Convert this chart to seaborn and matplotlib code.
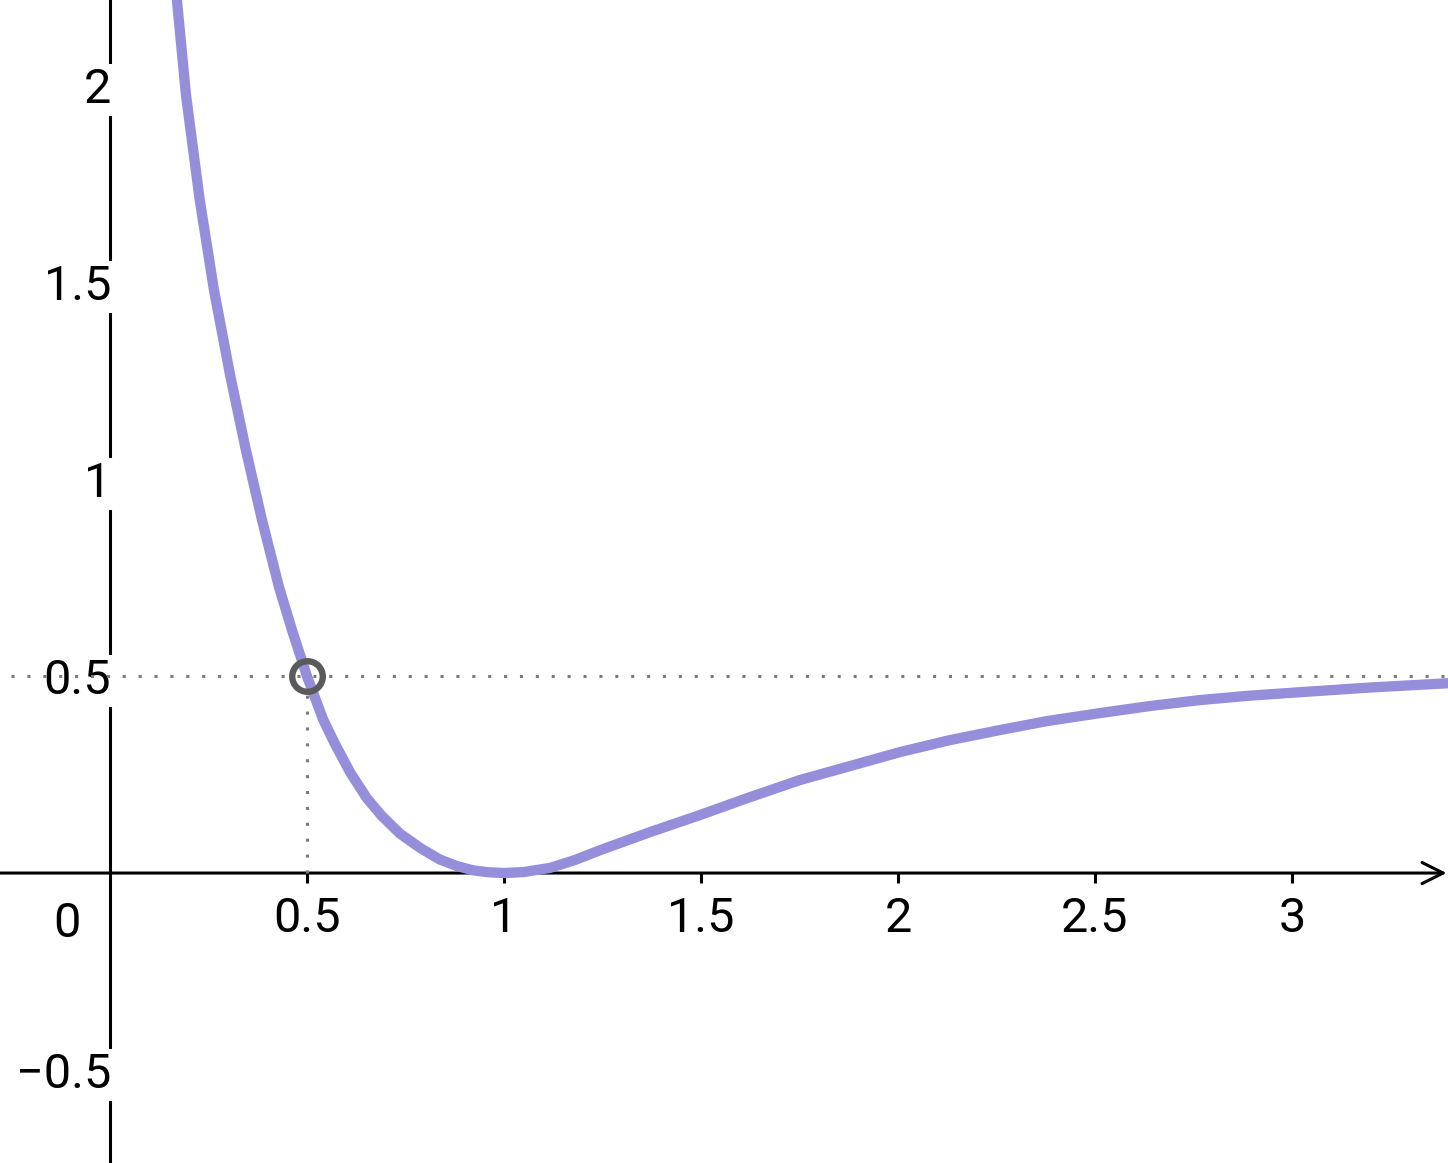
import matplotlib
matplotlib.use("Agg")
import matplotlib.pyplot as plt
import seaborn as sns
import pandas as pd

# ---- data ----
curve_x = [0.170, 0.193, 0.228, 0.264, 0.305, 0.345, 0.386, 0.429, 0.462, 0.50,
           0.541, 0.57, 0.61, 0.652, 0.69, 0.736, 0.79, 0.838, 0.88, 0.921,
           0.96, 1.00, 1.05, 1.117, 1.18, 1.244, 1.371, 1.497, 1.617, 1.751,
           1.88, 2.005, 2.13, 2.259, 2.38, 2.513, 2.64, 2.766, 2.89, 3.02,
           3.20, 3.40]
curve_y = [2.216, 1.975, 1.708, 1.480, 1.264, 1.074, 0.896, 0.726, 0.617, 0.50,
           0.39, 0.33, 0.255, 0.19, 0.145, 0.10, 0.062, 0.034, 0.018, 0.007,
           0.002, 0.0, 0.0025, 0.013, 0.033, 0.058, 0.104, 0.147, 0.19, 0.236,
           0.272, 0.307, 0.337, 0.363, 0.386, 0.406, 0.424, 0.439, 0.450, 0.459,
           0.471, 0.482]
point_x = [0.5]
point_y = [0.5]
xtick_vals = [0.5, 1, 1.5, 2, 2.5, 3]
xtick_labels = ["0.5", "1", "1.5", "2", "2.5", "3"]
ytick_vals = [-0.5, 0.5, 1, 1.5, 2]
ytick_labels = ["\u22120.5", "0.5", "1", "1.5", "2"]
origin_label = "0"

sns.set_theme(style="white")
plt.rcParams["font.family"] = ["Roboto", "DejaVu Sans"]

fig = plt.figure(figsize=(14.48, 11.63), dpi=100)
ax = fig.add_axes([0, 0, 1, 1])
ax.set_xlim(-0.279, 3.396)
ax.set_ylim(-0.736, 2.216)

df = pd.DataFrame({"x": curve_x, "y": curve_y})
sns.lineplot(data=df, x="x", y="y", ax=ax, color="#958edb", linewidth=7.4,
             sort=False, estimator=None, zorder=5, solid_capstyle="round",
             solid_joinstyle="round")

# dotted guides
ax.hlines(point_y, -0.25, 3.396, colors="#7a7a7a", linestyles=(0, (1, 4.2)),
          linewidth=2.2, zorder=4)
ax.vlines(point_x, 0, point_y, colors="#7a7a7a", linestyles=(0, (1, 4.2)),
          linewidth=2.2, zorder=4)
ax.plot(point_x, point_y, marker="o", ms=22, mfc="none", mec="#5a5a5a",
        mew=4.6, linestyle="none", zorder=6)

# axes in GeoGebra style
for s in ["top", "right"]:
    ax.spines[s].set_visible(False)
for s in ["left", "bottom"]:
    ax.spines[s].set_position(("data", 0))
    ax.spines[s].set_linewidth(2.2)
    ax.spines[s].set_zorder(2.5)
ax.spines["left"].set_color("black")
ax.spines["bottom"].set_color("none")
ax.annotate("", xy=(0.999, 0), xycoords=("axes fraction", "data"),
            xytext=(0.0, 0), textcoords=("axes fraction", "data"),
            arrowprops=dict(arrowstyle="->", lw=2.2, color="black",
                            mutation_scale=38, shrinkA=0, shrinkB=0),
            zorder=2.6)

ax.set_xticks(xtick_vals)
ax.set_xticklabels(xtick_labels)
ax.set_yticks(ytick_vals)
ax.set_yticklabels(ytick_labels)
ax.xaxis.set_ticks_position("bottom")
ax.yaxis.set_ticks_position("left")
ax.tick_params(axis="x", direction="out", length=7.2, width=2.2, color="black",
               labelsize=35, pad=9, labelcolor="black")
ax.tick_params(axis="y", direction="out", length=0, width=0, labelsize=35,
               pad=-1, labelcolor="black")
for lab in ax.get_yticklabels():
    lab.set_bbox(dict(facecolor="white", edgecolor="none", pad=2))
ax.yaxis.set_zorder(3)
ax.xaxis.set_zorder(3)
ax.text(-0.109, -0.07, origin_label, fontsize=35, ha="center", va="top",
        color="black")
ax.set_xlabel("")
ax.set_ylabel("")
ax.grid(False)

fig.savefig("out.png", dpi=100, facecolor="white")
